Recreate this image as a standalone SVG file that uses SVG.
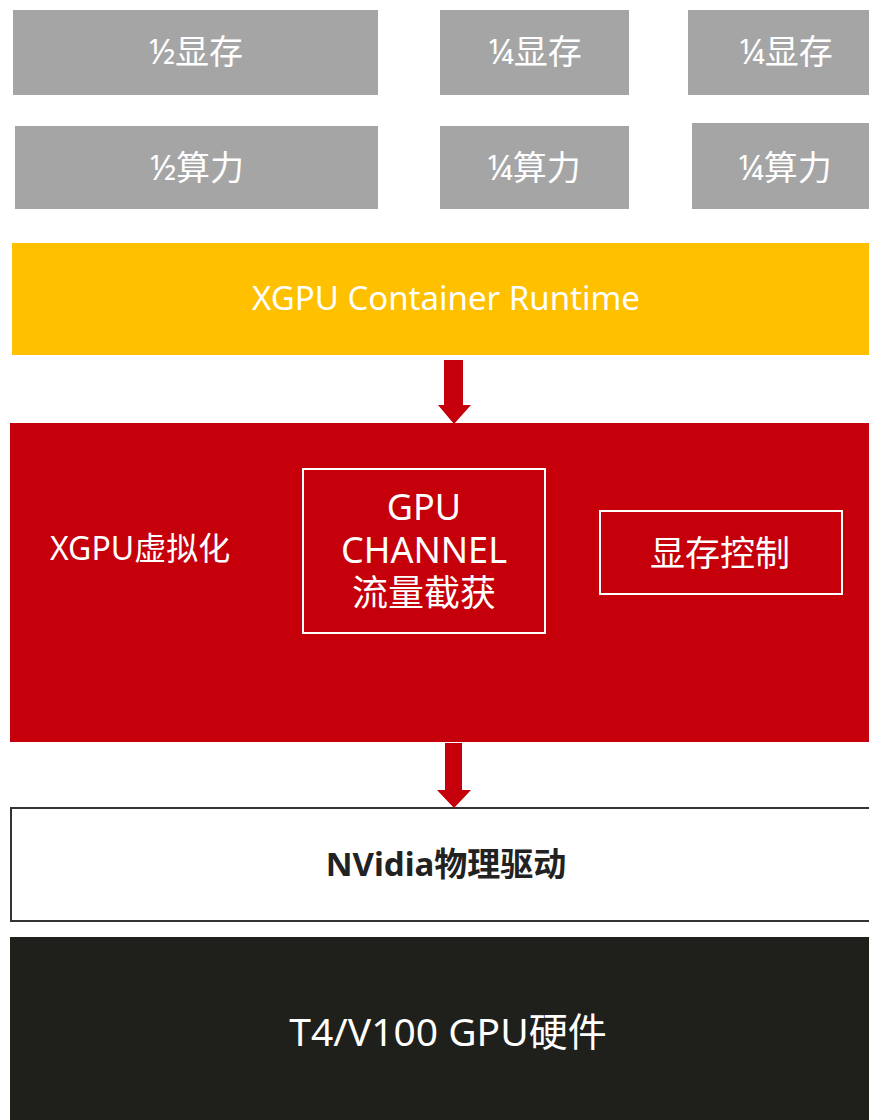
<svg xmlns="http://www.w3.org/2000/svg" width="869" height="1120" viewBox="0 0 869 1120">
<style>
text{font-family:"Noto Sans","Noto Sans CJK SC",sans-serif;text-anchor:middle}
.g{fill:#a5a5a5}
.gt{fill:#fff;font-size:34px}
.w{fill:#fff}
.arrow{fill:#c5000b}
</style>
<rect width="869" height="1120" fill="#fff"/>
<g id="mem-half"><rect class="g" x="13" y="10" width="365" height="85"/><text class="gt" x="196" y="64">½显存</text></g>
<g id="mem-q1"><rect class="g" x="440" y="10" width="189" height="85"/><text class="gt" x="535" y="64">¼显存</text></g>
<g id="mem-q2"><rect class="g" x="688" y="10" width="181" height="85"/><text class="gt" x="786" y="64">¼显存</text></g>
<g id="cmp-half"><rect class="g" x="15" y="126" width="363" height="83"/><text class="gt" x="197" y="180">½算力</text></g>
<g id="cmp-q1"><rect class="g" x="440" y="126" width="189" height="83"/><text class="gt" x="534" y="180">¼算力</text></g>
<g id="cmp-q2"><rect class="g" x="692" y="123" width="177" height="86"/><text class="gt" x="785" y="180">¼算力</text></g>
<g id="runtime"><rect x="12" y="243" width="857" height="112" fill="#ffc000"/><text class="w" x="446" y="310" font-size="33">XGPU Container Runtime</text></g>
<g id="xgpu"><rect x="10" y="423" width="859" height="319" fill="#c5000b"/><text class="w" x="50" y="560" font-size="32" style="text-anchor:start">XGPU虚拟化</text></g>
<g id="channel"><rect x="303" y="469" width="242" height="164" fill="none" stroke="#fff" stroke-width="2"/><text class="w" font-size="36"><tspan x="424" y="520">GPU</tspan><tspan x="424" y="563">CHANNEL</tspan><tspan x="424" y="606">流量截获</tspan></text></g>
<g id="memctl"><rect x="600" y="511" width="242" height="83" fill="none" stroke="#fff" stroke-width="2"/><text class="w" x="720" y="566" font-size="35">显存控制</text></g>
<g id="driver"><rect x="11" y="808" width="860" height="113" fill="#fff" stroke="#333" stroke-width="2"/><text x="446" y="876" font-size="33" font-weight="bold" fill="#222">NVidia物理驱动</text></g>
<g id="hw"><rect x="10" y="937" width="859" height="183" fill="#1f1f1b"/><text class="w" x="448" y="1046" font-size="39">T4/V100 GPU硬件</text></g>
<g id="connectors">
<polygon class="arrow" points="444,360 463,360 463,405 471,405 454,424 438,405 444,405"/>
<polygon class="arrow" points="445,743 462,743 462,790 471,790 454,808 437,790 445,790"/>
</g>
</svg>
